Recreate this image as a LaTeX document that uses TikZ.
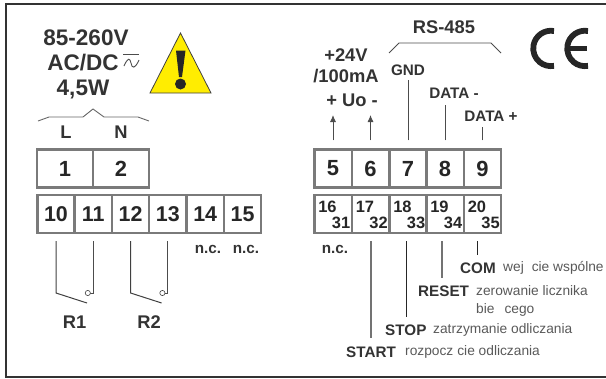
\documentclass[tikz,border=0pt]{standalone}
\usepackage{fontspec}
\usetikzlibrary{arrows.meta}
\setmainfont{Liberation Sans}
\tikzset{
  cell/.style={draw=black!52, line width=2.4bp, fill=white, minimum width=37.4bp, minimum height=38bp, inner sep=0pt, font=\fontsize{21.5}{21.5}\selectfont\bfseries, text=black!85},
  head/.style={font=\fontsize{22.6}{22.6}\selectfont\bfseries, text=black!80, inner sep=0pt},
  lab/.style={font=\fontsize{18.4}{18.4}\selectfont\bfseries, text=black!80, inner sep=0pt},
  sig/.style={font=\fontsize{15.3}{15.3}\selectfont\bfseries, text=black!80, inner sep=0pt},
  note/.style={font=\fontsize{13.8}{13.8}\selectfont, text=black!65, inner sep=0pt},
  wire/.style={black!70, line width=0.9bp},
  contact/.style={black!75, line width=1bp},
  logo/.style={black!85, line width=5.8bp}
}
\begin{document}
\begin{tikzpicture}[x=1bp,y=-1bp]
    \useasboundingbox (0,0) rectangle (606,378);
    % Ramka
    \draw[black!80, line width=2.2bp] (606,4) -- (6,4) -- (6,377) -- (606,377);

    % Zasilanie
    \node[head] (volt) at (86,38) {85-260V};
    \node[head] (acdc) at (83,63) {AC/DC};
    \node[head] (moc) at (83,89) {4,5W};
    \draw[black!70, line width=0.8bp] (123,54.5) -- (139,54.5);
    \draw[black!70, line width=0.9bp] (124,66) .. controls (128,57) and (130,58) .. (131,63) .. controls (132,69) and (135,69) .. (139,60);

    % Trojkat ostrzegawczy
    \draw[fill=yellow!95!orange, draw=black!75, line width=0.8bp] (180.5,33) -- (150,93) -- (211,93) -- cycle;
    \fill[black!85] (176,50.5) -- (185.5,50.5) -- (182,77) -- (179,77) -- cycle;
    \fill[black!85] (180.5,84) circle (5.5);

    % Zaciski 1-2
    \foreach \n/\x in {1/65,2/121} {
        \node[cell, minimum width=56bp, font=\fontsize{22}{22}\selectfont\bfseries] (t\n) at (\x,168.5) {\n};
    }
    \node[lab] (L) at (66,132) {L};
    \node[lab] (N) at (121,132) {N};
    \draw[black!60, line width=0.9bp] (38,121) -- (49,117) -- (83,117) -- (93,109) -- (104,117) -- (138,117) -- (149,121);

    % Zaciski 10-15
    \foreach \n/\x in {10/56,11/93.3,12/130.6,13/167.9,14/205.2,15/242.5} {
        \node[cell] (t\n) at (\x,214) {\n};
    }
    \node[sig] (nc14) at (208,249) {n.c.};
    \node[sig] (nc15) at (246,249) {n.c.};

    % Przekazniki
    \foreach \a/\b/\r/\x in {10/11/R1/74.5,12/13/R2/149} {
        \node[lab] (\r) at (\x,322) {\r};
        \draw[contact] (t\a.south |- 0,241) -- (t\a.south |- 0,293) -- ++(31,10);
        \draw[wire] (t\b.south |- 0,241) -- (t\b.south |- 0,293) -- ++(-3,0);
        \draw[black!75, line width=0.6bp, fill=white] ([xshift=-5.5bp]t\b.south |- 0,293) circle (2.6);
    }

    % Zaciski 5-9
    \foreach \n/\x in {5/333,6/370.5,7/408,8/445,9/482.5} {
        \node[cell, font=\fontsize{22}{22}\selectfont\bfseries] (t\n) at (\x,168.5) {\n};
    }
    \node[lab] (v24) at (346,55) {+24V};
    \node[lab] (ma) at (346,76) {/100mA};
    \node[lab] (uo) at (352,100) {+ Uo -};
    \node[lab] (rs) at (444,27) {RS-485};
    \node[sig] (gnd) at (408,70) {GND};
    \node[sig] (dminus) at (454,93) {DATA -};
    \node[sig] (dplus) at (491,116) {DATA +};
    \draw[black!70, line width=0.8bp] (389,53) -- (399,43) -- (491,43) -- (501,53);

    \foreach \n/\y in {5/115,6/115} {
        \draw[wire, -{Latex[length=7bp,width=6bp]}, shorten <=8bp] (t\n.north) -- (t\n.north |- 0,\y);
    }
    \draw[wire, shorten <=8bp, shorten >=4bp] (t7.north) -- (gnd.south);
    \draw[wire, shorten <=8bp] (t8.north) -- (t8.north |- 0,105);
    \draw[wire, shorten <=8bp] (t9.north) -- (t9.north |- 0,127);

    % Znak CE
    \draw[logo] (554,31) arc (-80:-280:17.7);
    \draw[logo] (588,31) arc (-80:-280:17.7);
    \draw[black!85, line width=4.2bp] (570,48.4) -- (587,48.4);

    % Zaciski 16-20
    \foreach \n/\m/\x in {16/31/333,17/32/370.5,18/33/408,19/34/445,20/35/482.5} {
        \node[cell] (t\n) at (\x,214) {};
        \node[font=\fontsize{16.5}{16.5}\selectfont\bfseries, text=black!85, inner sep=0pt, anchor=west] (g\n) at ([xshift=5bp,yshift=7bp]t\n.west) {\n};
        \node[font=\fontsize{16.5}{16.5}\selectfont\bfseries, text=black!85, inner sep=0pt, anchor=east] (d\n) at ([xshift=-2.5bp,yshift=-9bp]t\n.east) {\m};
    }
    \node[sig] (nc16) at (335,249) {n.c.};

    % Wejscia
    \node[sig, anchor=west] (com) at (460,268) {COM};
    \node[note, anchor=west] (comt) at (503,268) {wej\hspace{8bp}cie wspólne};
    \node[sig, anchor=west] (reset) at (418,291) {RESET};
    \node[note, anchor=west] (resett) at (476,291) {zerowanie licznika};
    \node[note, anchor=west] (biecego) at (476,310) {bie\hspace{10bp}cego};
    \node[sig, anchor=west] (stop) at (385,330) {STOP};
    \node[note, anchor=west] (stopt) at (433,330) {zatrzymanie odliczania};
    \node[sig, anchor=west] (start) at (346,352) {START};
    \node[note, anchor=west] (startt) at (405,352) {rozpocz\hspace{4bp}cie odliczania};

    \draw[black!55, line width=1.1bp] (371,241) -- (371,338);
    \draw[black!85, line width=0.9bp] (406.5,241) -- (406.5,317);
    \draw[black!55, line width=1.1bp] (442,241) -- (442,278);
    \draw[black!85, line width=0.8bp] (477,241) -- (477,255);
\end{tikzpicture}
\end{document}
